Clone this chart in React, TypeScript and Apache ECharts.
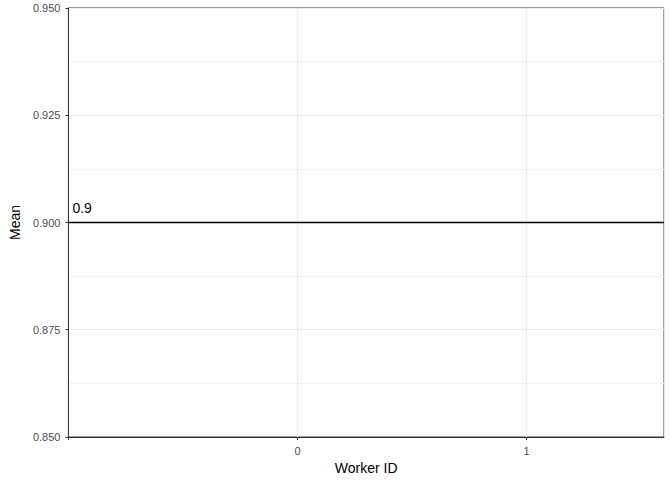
import React, { useEffect, useRef } from 'react';
import * as echarts from 'echarts';

const xTicks = [0, 1];
const xRange = [-1, 1.6];
const yRange = [0.85, 0.95];
const meanValue = 0.9;

const App: React.FC = () => {
  const ref = useRef<HTMLDivElement>(null);

  useEffect(() => {
    if (!ref.current) return;
    const chart = echarts.init(ref.current, undefined, { renderer: 'svg' });
    chart.setOption({
      animation: false,
      textStyle: { fontFamily: 'Liberation Sans, Arial, sans-serif' },
      grid: { left: 61, right: 8, top: 8, bottom: 43, show: true, borderColor: '#333333', borderWidth: 1, backgroundColor: '#fff' },
      xAxis: {
        type: 'value', min: xRange[0], max: xRange[1], interval: 1,
        name: 'Worker ID', nameLocation: 'middle', nameGap: 22,
        nameTextStyle: { fontSize: 14, color: '#000' },
        axisLine: { show: true, onZero: false, lineStyle: { color: '#333333' } },
        axisTick: { show: true, length: 3, lineStyle: { color: '#333333' } },
        axisLabel: { fontSize: 11, color: '#4d4d4d', formatter: (v: number) => (xTicks.includes(v) ? String(v) : ''), showMaxLabel: false },
        splitLine: { show: true, lineStyle: { color: '#ebebeb', width: 1.2 } },
      },
      yAxis: {
        type: 'value', min: yRange[0], max: yRange[1], interval: 0.025,
        name: 'Mean', nameLocation: 'middle', nameGap: 42,
        nameTextStyle: { fontSize: 14, color: '#000' },
        axisLine: { show: true, onZero: false, lineStyle: { color: '#333333' } },
        axisTick: { show: true, length: 3, lineStyle: { color: '#333333' } },
        axisLabel: { fontSize: 11, color: '#4d4d4d', formatter: (v: number) => v.toFixed(3) },
        splitLine: { show: true, lineStyle: { color: '#ebebeb', width: 1.2 } },
        minorTick: { show: false, splitNumber: 2 },
        minorSplitLine: { show: true, lineStyle: { color: '#f3f3f3', width: 1 } },
      },
      series: [{
        type: 'line',
        symbol: 'circle', symbolSize: 0,
        lineStyle: { color: '#000', width: 1.3 },
        data: [
          { value: [xRange[0], meanValue], label: { show: true, formatter: String(meanValue), position: [4, -22], fontSize: 14, color: '#000' } },
          [xRange[1], meanValue],
        ],
      }],
    });
    return () => chart.dispose();
  }, []);

  return <div ref={ref} style={{ width: 672, height: 480, position: 'absolute', left: 0, top: 0 }} />;
};

export default App;
